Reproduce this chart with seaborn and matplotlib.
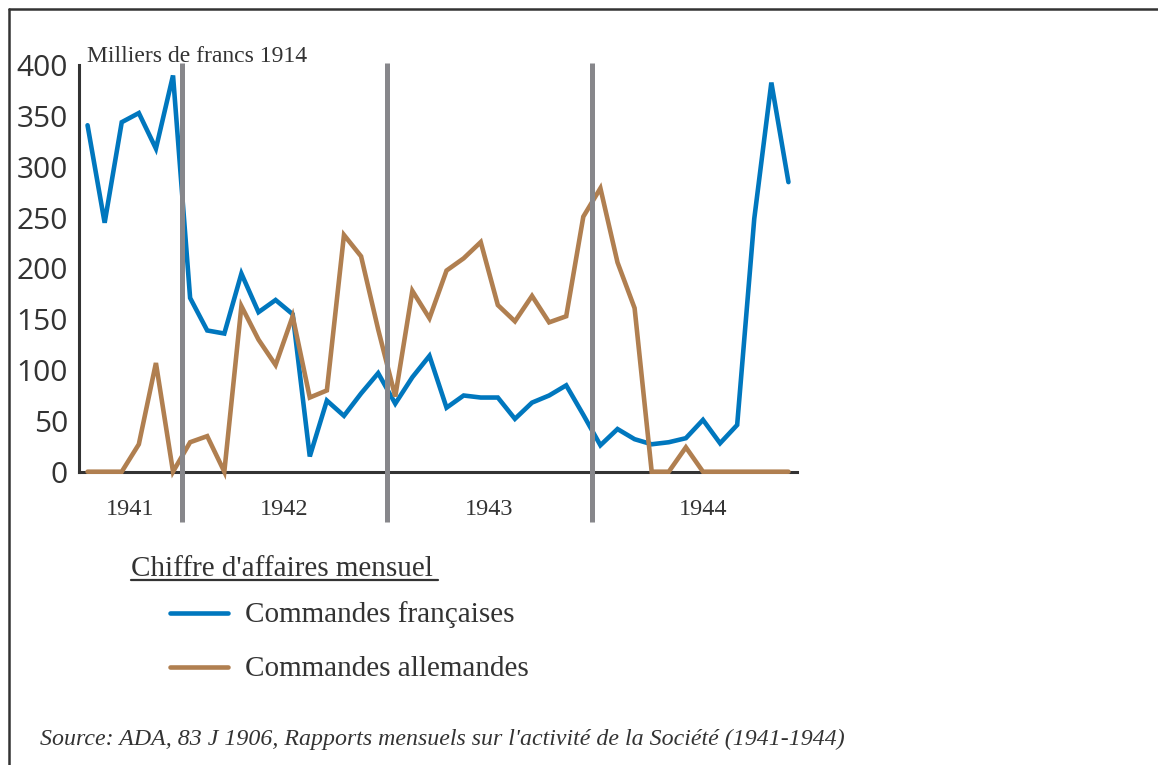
import numpy as np
import pandas as pd
import matplotlib.pyplot as plt
from matplotlib.lines import Line2D
import seaborn as sns

# --- Données (milliers de francs 1914), juillet 1941 -> décembre 1944 ---
francaises = [341, 245, 344, 353, 318, 390,
              171, 139, 136, 195, 157, 169, 155, 15, 70, 55, 77, 97,
              67, 93, 114, 63, 75, 73, 73, 52, 68, 75, 85, 56,
              26, 42, 32, 27, 29, 33, 51, 28, 46, 249, 383, 285]
allemandes = [0, 0, 0, 27, 107, 0,
              29, 35, 0, 163, 130, 105, 153, 73, 80, 233, 212, 140,
              74, 178, 151, 198, 210, 226, 164, 148, 173, 147, 153, 251,
              279, 206, 161, 0, 0, 24, 0, 0, 0, 0, 0, 0]
annees = ['1941', '1942', '1943', '1944']
annees_pos = [2.5, 11.5, 23.5, 36]
separations = [5.5, 17.5, 29.5]
series = ['Commandes françaises', 'Commandes allemandes']
couleurs = ['#0077BE', '#B07F50']

mois = np.arange(len(francaises))
df = pd.DataFrame({
    'mois': np.concatenate([mois, mois]),
    'valeur': francaises + allemandes,
    'serie': [series[0]] * len(francaises) + [series[1]] * len(allemandes),
})

sns.set_style('white')
plt.rcParams['font.family'] = ['Liberation Serif', 'DejaVu Serif']
TXT = '#333333'

fig = plt.figure(figsize=(11.58, 7.65), dpi=100)
W, H = 1158, 765
ax = fig.add_axes([79.0 / W, 1 - 471.7 / H, 718.0 / W, 406.4 / H])

sns.lineplot(data=df, x='mois', y='valeur', hue='serie', hue_order=series,
             palette=couleurs, linewidth=3.3, legend=False, ax=ax,
             zorder=3, clip_on=False, solid_joinstyle='miter')

# séparations des années
ax.vlines(separations, -50, 402, color='#87878B', linewidth=3.6,
          zorder=4, clip_on=False)

ax.set_xlim(-0.5, 41.5)
ax.set_ylim(0, 400)
ax.set_yticks(np.arange(0, 401, 50))
ax.set_xticks(np.arange(0.5, 41.6, 1))
ax.set_xticklabels([])
ax.set_xlabel('')
ax.set_ylabel('')
for s in ['top', 'right']:
    ax.spines[s].set_visible(False)
for s in ['left', 'bottom']:
    ax.spines[s].set_linewidth(2.2)
    ax.spines[s].set_color(TXT)
ax.tick_params(axis='y', direction='in', length=12, width=2, color=TXT,
               pad=8, labelsize=21.5, labelcolor=TXT)
ax.tick_params(axis='x', direction='in', length=6.5, width=1.5, color=TXT)
for lab in ax.get_yticklabels():
    lab.set_family(['Open Sans', 'DejaVu Sans'])

for pos, an in zip(annees_pos, annees):
    ax.text(pos, -42.6, an, ha='center', va='baseline', fontsize=17.5,
            color=TXT, clip_on=False)

fig.text(87 / W, 1 - 62 / H, 'Milliers de francs 1914', fontsize=17,
         color=TXT, va='baseline', ha='left')

# légende
fig.text(131 / W, 1 - 575.5 / H, "Chiffre d'affaires mensuel", fontsize=21,
         color=TXT, va='baseline', ha='left')
fig.add_artist(Line2D([131 / W, 438 / W], [1 - 580 / H, 1 - 580 / H],
                      color=TXT, linewidth=1.6))
for i, (nom, c) in enumerate(zip(series, couleurs)):
    y = 613 + i * 54
    fig.add_artist(Line2D([170 / W, 228 / W], [1 - y / H, 1 - y / H],
                          color=c, linewidth=3.3))
    fig.text(245 / W, 1 - (y + 9.5) / H, nom, fontsize=21, color=TXT,
             va='baseline', ha='left')

fig.text(40 / W, 1 - 744.5 / H,
         "Source: ADA, 83 J 1906, Rapports mensuels sur l'activité de la Société (1941-1944)",
         fontsize=17.2, style='italic', color=TXT, va='baseline', ha='left')

# cadre
fig.add_artist(Line2D([9 / W, 9 / W], [0, 1 - 9 / H], color=TXT, linewidth=1.8))
fig.add_artist(Line2D([9 / W, 1], [1 - 9 / H, 1 - 9 / H], color=TXT, linewidth=1.8))

fig.savefig('out.png', dpi=100)
